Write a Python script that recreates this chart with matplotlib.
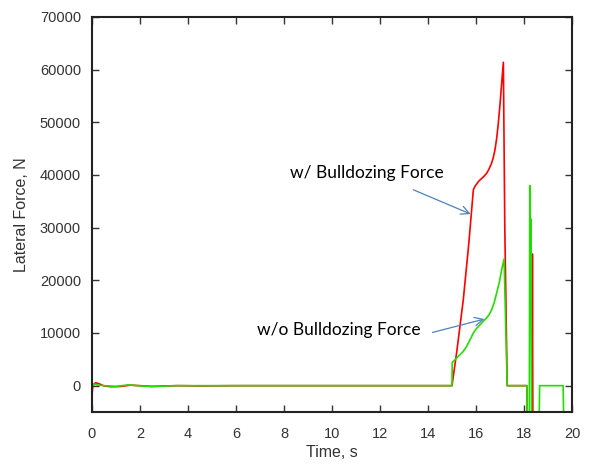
import matplotlib
matplotlib.use("Agg")
import matplotlib.pyplot as plt

# Data (time in s, lateral force in N)
red_t = [0, 0.03, 0.08, 0.15, 0.3, 0.5, 0.8, 1.2, 1.6, 2.0, 2.5, 3.0, 3.6, 4.5, 6, 10, 15.0,
         15.2, 15.47, 15.7, 15.89, 15.95, 16.03, 16.1, 16.2, 16.3, 16.45, 16.55, 16.65, 16.72,
         16.79, 16.86, 16.93, 17.0, 17.07, 17.14,
         17.2, 17.3, 18.12, 18.14, 18.33, 18.35, 18.37, 20]
red_f = [-1800, -300, 300, 550, 350, -50, -200, -150, 100, 0, -150, -50, 0, -50, 0, 0, 0,
         6500, 16300, 27000, 37200, 37800, 38300, 38760, 39200, 39600, 40360, 41200, 42260, 43300,
         44780, 46900, 49840, 53400, 57430, 61400,
         30000, 0, 0, -8000, -8000, 25000, -8000, -8000]

green_t = [0, 0.1, 0.25, 0.5, 1.0, 1.5, 2.0, 2.5, 3.5, 5, 10, 15.0, 15.01, 15.26, 15.45, 15.61,
           15.75, 15.89, 16.03, 16.17, 16.3, 16.44, 16.55, 16.65, 16.76, 16.86, 16.97, 17.07,
           17.17, 17.3, 18.12, 18.14, 18.22, 18.24, 18.26,
           18.28, 18.32, 18.63, 18.65, 19.63, 19.66, 20]
green_f = [0, 300, 100, 0, -150, 150, -50, -150, 0, 0, 0, 0, 4400, 5560, 6400, 7460,
           8700, 10000, 10900, 11570, 12200, 12850, 13500, 14420, 15800, 17590, 19600, 22010,
           24040, 0, 0, -8000, -8000, 38000, 16300,
           31700, -8000, -8000, 0, 0, -8000, -8000]

x_ticks = [0, 2, 4, 6, 8, 10, 12, 14, 16, 18, 20]
y_ticks = [0, 10000, 20000, 30000, 40000, 50000, 60000, 70000]

fig = plt.figure(figsize=(5.93, 4.68), dpi=100)
ax = fig.add_axes([92/593, (468-412)/468, (572-92)/593, (412-17)/468])

ax.plot(red_t, red_f, color="#ff0000", lw=1.2)
ax.plot(green_t, green_f, color="#22dd00", lw=1.2)

ax.set_xlim(0, 20)
ax.set_ylim(-5000, 70000)
ax.set_xticks(x_ticks)
ax.set_yticks(y_ticks)
ax.set_xticklabels([str(v) for v in x_ticks])
ax.set_yticklabels([str(v) for v in y_ticks])
ax.tick_params(direction="in", top=True, right=True, length=5, width=1,
               labelsize=10.5, colors="#333333")
ax.tick_params(axis="x", pad=11)
ax.tick_params(axis="y", pad=8)
for lbl in ax.get_xticklabels() + ax.get_yticklabels():
    lbl.set_family("Liberation Sans")
for s in ax.spines.values():
    s.set_linewidth(1.5)
    s.set_color("#222222")

ax.set_xlabel("Time, s", family="Liberation Sans", fontsize=11.5, labelpad=3, color="#333333")
ax.set_ylabel("Lateral Force, N", family="Liberation Sans", fontsize=11.5, labelpad=8,
              color="#333333")

arrow_col = "#4f81bd"
astyle = "->,head_length=0.6,head_width=0.3"
ax.annotate("", xy=(15.78, 32580), xytext=(13.39, 37190),
            arrowprops=dict(arrowstyle=astyle, color=arrow_col, lw=0.9, shrinkA=0, shrinkB=0))
ax.annotate("", xy=(16.35, 12650), xytext=(14.19, 10110),
            arrowprops=dict(arrowstyle=astyle, color=arrow_col, lw=0.9, shrinkA=0, shrinkB=0))
ax.text(290, 468-173, "w/ Bulldozing Force", transform=None, family="Lato",
        fontsize=12.5, va="center", ha="left", color="black")
ax.text(257, 468-330, "w/o Bulldozing Force", transform=None, family="Lato",
        fontsize=12.5, va="center", ha="left", color="black")

fig.savefig("out.png", dpi=100)
